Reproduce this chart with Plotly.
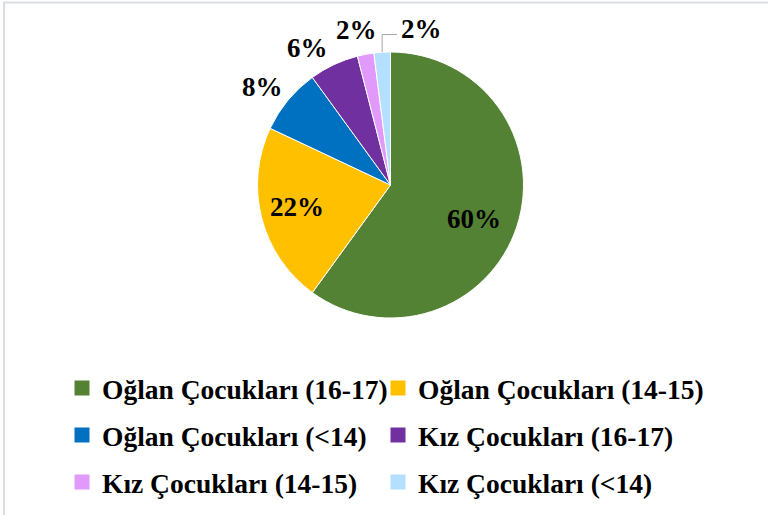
import math
import plotly.graph_objects as go

labels = ["Oğlan Çocukları (16-17)", "Oğlan Çocukları (14-15)", "Oğlan Çocukları (<14)",
          "Kız Çocukları (16-17)", "Kız Çocukları (14-15)", "Kız Çocukları (<14)"]
values = [60, 22, 8, 6, 2, 2]
colors = ["#548235", "#FFC000", "#0070C0", "#7030A0", "#E199FB", "#B4DFFF"]

# label placement style: inside / outside, plus small nudges (px) like the original layout
label_inside = [True, True, False, False, False, False]
label_nudge = [(-5, 5), (-3, -1), (-5, 4), (-15, 8), (-4, 2), (41, 4)]

W, H = 768, 515
font = "Liberation Serif, Times New Roman, serif"
CX, CY, R = 390.5, 185.0, 133.0  # pie centre / radius in px

fig = go.Figure()
fig.add_trace(go.Pie(
    labels=labels, values=values, sort=False, direction="clockwise", rotation=0,
    marker=dict(colors=colors, line=dict(color="white", width=1)),
    textinfo="none", showlegend=False, automargin=False,
    domain=dict(x=[(CX - R) / W, (CX + R) / W], y=[1 - (CY + R) / H, 1 - (CY - R) / H]),
    hoverinfo="label+percent",
))

# percentage labels, positioned from the slice angles
total = sum(values)
cum = 0
annotations = []
shapes = []
for i, (v, ins, (nx, ny)) in enumerate(zip(values, label_inside, label_nudge)):
    mid = (cum + v / 2) / total * 2 * math.pi
    cum += v
    dx, dy = math.sin(mid), -math.cos(mid)
    rr = 0.70 * R if ins else 1.205 * R
    lx, ly = CX + dx * rr + nx, CY + dy * rr + ny
    annotations.append(dict(
        x=lx / W, y=1 - ly / H, xref="paper", yref="paper", showarrow=False,
        text=f"{v / total:.0%}", xanchor="center", yanchor="middle",
        font=dict(family=font, size=27, color="black", weight="bold"),
    ))
    if nx > 20:  # label moved sideways -> leader line
        sx, sy = CX + dx * R, CY + dy * R
        ey = ly + 5.5
        shapes.append(dict(type="path", xref="paper", yref="paper",
                           path=f"M {sx / W},{1 - sy / H} L {sx / W},{1 - ey / H} L {(lx - 24.5) / W},{1 - ey / H}",
                           line=dict(color="#A6A6A6", width=1)))

# legend entries: one legend per entry, 3 rows x 2 columns
legend_ids = ["legend", "legend2", "legend3", "legend4", "legend5", "legend6"]
for name, col, lg in zip(labels, colors, legend_ids):
    fig.add_trace(go.Scatter(
        x=[None], y=[None], mode="markers", name=name, legend=lg,
        marker=dict(symbol="square", size=15, color=col, line=dict(width=0)),
    ))

col_x = [62, 378]
row_y = [388, 435, 482]
legends = {}
for k, lg in enumerate(legend_ids):
    legends[lg] = dict(
        orientation="h", x=col_x[k % 2] / W, y=1 - row_y[k // 2] / H,
        xanchor="left", yanchor="middle",
        font=dict(family=font, size=27.5, color="black", weight="bold"),
        itemwidth=30, bgcolor="rgba(0,0,0,0)",
    )

shapes += [
    dict(type="line", xref="paper", yref="paper", x0=3 / W, x1=1, y0=1 - 2.5 / H, y1=1 - 2.5 / H,
         line=dict(color="#D9DDE3", width=2)),
    dict(type="line", xref="paper", yref="paper", x0=4 / W, x1=4 / W, y0=0, y1=1 - 2 / H,
         line=dict(color="#D9DDE3", width=2)),
]

fig.update_layout(
    width=W, height=H,
    margin=dict(l=0, r=0, t=0, b=0, autoexpand=False),
    paper_bgcolor="white", plot_bgcolor="white",
    xaxis=dict(visible=False), yaxis=dict(visible=False),
    showlegend=True,
    annotations=annotations,
    shapes=shapes,
    **legends,
)

fig.write_html(
    "out.html",
    config={"displayModeBar": False},
    post_script="document.body.style.margin='0px';"
                "document.body.style.overflow='hidden';"
                "document.documentElement.style.overflow='hidden';",
)
